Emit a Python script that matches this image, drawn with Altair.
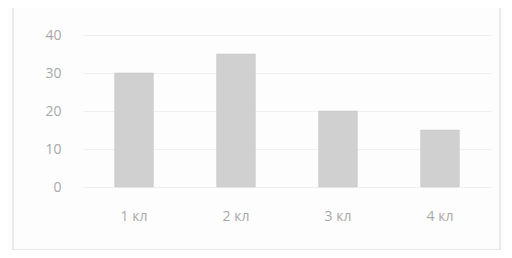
import altair as alt
import pandas as pd

categories = ["1 кл", "2 кл", "3 кл", "4 кл"]
values = [30, 35, 20, 15]

df = pd.DataFrame({"cat": categories, "val": values})

bars = alt.Chart(df).mark_bar(color="#d0d0d0", stroke="#c6c6c6", strokeWidth=0.5).encode(
    x=alt.X("cat:N", sort=categories, title=None,
            scale=alt.Scale(paddingInner=0.62, paddingOuter=0.31),
            axis=alt.Axis(labelAngle=0, labelPadding=22, labelFontSize=14,
                          labelColor="#a8a8a8", domain=False, ticks=False,
                          labelFont="Open Sans")),
    y=alt.Y("val:Q", title=None,
            scale=alt.Scale(domain=[0, 40]),
            axis=alt.Axis(values=[0, 10, 20, 30, 40], labelPadding=22,
                          labelFontSize=14, labelColor="#a8a8a8", domain=False,
                          ticks=False, grid=True, gridColor="#f0f0f0",
                          labelFont="Open Sans")),
)

border = alt.Chart(pd.DataFrame({"a": [0]})).mark_rect(
    fill=None, stroke="#e2e2e2", strokeWidth=1.5
).encode(x=alt.value(-70), x2=alt.value(417), y=alt.value(-30), y2=alt.value(215))

chart = alt.layer(border, bars).properties(
    width=408, height=152,
    background="#fdfdfd",
    padding={"left": 75, "top": 27, "right": 13, "bottom": 63},
    autosize=alt.AutoSizeParams(type="none"),
).configure_view(stroke=None)

chart.save("out.html", embed_options={"renderer": "svg", "actions": False})
